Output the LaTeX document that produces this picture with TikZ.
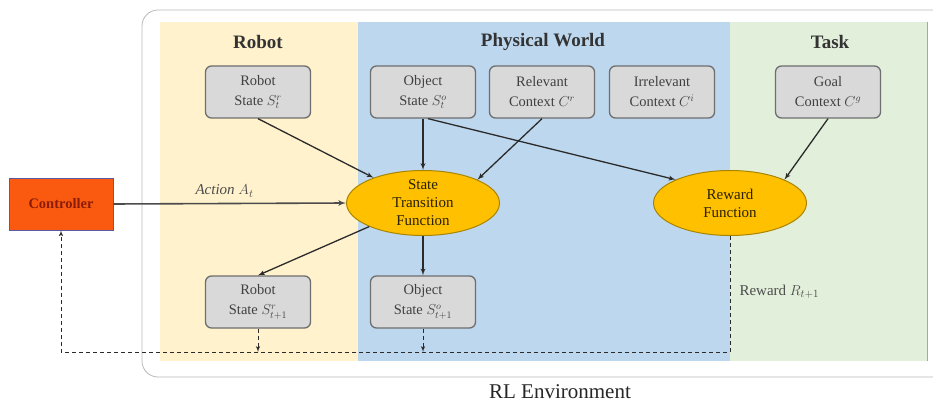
\documentclass[tikz,border=0pt]{standalone}
\usepackage{fontspec}
\setmainfont{Liberation Serif}
\usepackage{amsmath}
\usetikzlibrary{arrows}
\usetikzlibrary{shapes.geometric}
\usetikzlibrary{positioning}
\definecolor{robotbg}{HTML}{FFF2CC}
\definecolor{worldbg}{HTML}{BDD7EE}
\definecolor{taskbg}{HTML}{E2EFDA}
\definecolor{boxfill}{HTML}{D9D9D9}
\definecolor{boxline}{HTML}{6E6E6E}
\definecolor{fnfill}{HTML}{FFC000}
\definecolor{fnline}{HTML}{A88400}
\definecolor{ctrlfill}{HTML}{FA5A10}
\definecolor{ctrltext}{HTML}{8A1C08}
\definecolor{edgec}{HTML}{2B2B2B}
\tikzset{statebox/.style = {draw=boxline, fill=boxfill, line width=1.3pt, rounded corners=6pt,
                            minimum width=105pt, minimum height=52pt, align=center, text=black!75,
                            font=\fontsize{14.5}{20}\selectfont}}
\tikzset{func/.style = {ellipse, draw=fnline, fill=fnfill, line width=1pt, inner sep=-2pt,
                        minimum width=153pt, minimum height=65pt, align=center, text=black!75!fnline,
                        font=\fontsize{15}{18}\selectfont}}
\tikzset{paneltitle/.style = {font=\fontsize{19}{22}\selectfont\bfseries, text=black!80}}
\tikzset{link/.style = {-latex', draw=edgec, line width=1.3pt}}
\tikzset{feedback/.style = {-latex', draw=edgec, line width=1pt, dash pattern=on 4pt off 3pt}}

\begin{document}
\begin{tikzpicture}[x=1pt, y=-1pt]
      \useasboundingbox (0,0) rectangle (933,403);
      \clip (0,0) rectangle (933,403);

      \draw [gray!55, line width=0.8pt, rounded corners=16pt] (142,10) rectangle (960,377);
      \fill [robotbg] (160,22) rectangle (358,361);
      \fill [worldbg] (358,22) rectangle (730,361);
      \fill [taskbg] (730,22) rectangle (927,361);
      \draw [gray!70, line width=1pt] (927,22) -- (927,361);

      \node [paneltitle] (trobot) at (258,42) {Robot};
      \node [paneltitle] (tworld) at (543,42) {Physical World};
      \node [paneltitle] (ttask) at (830,42) {Task};

      \node [statebox] (rs) at (258,92) {Robot\\State $S_t^r$};
      \node [statebox] (os) at (423,92) {Object\\State $S_t^o$};
      \node [statebox] (rc) at (542,92) {Relevant\\Context $C^r$};
      \node [statebox] (ic) at (662,92) {Irrelevant\\Context $C^i$};
      \node [statebox] (gc) at (828,92) {Goal\\Context $C^g$};
      \node [statebox] (rn) at (258,302) {Robot\\State $S_{t+1}^r$};
      \node [statebox] (on) at (423,302) {Object\\State $S_{t+1}^o$};

      \node [func] (stf) at (423,203) {State\\Transition\\Function};
      \node [func] (rf) at (730,203) {Reward\\Function};

      \node [draw=blue!30!gray, fill=ctrlfill, line width=0.6pt, minimum width=104pt, minimum height=52pt,
             text=ctrltext, font=\fontsize{14.5}{17}\selectfont\bfseries] (ctrl) at (61,204) {Controller};

      \draw [link] (rs.south) -- (stf);
      \draw [link] (os.south) -- (stf.north);
      \draw [link] (rc.south) -- (stf.north east);
      \draw [link] ([xshift=5pt]os.south) -- (rf.north west);
      \draw [link] (gc.south) -- (rf.north east);
      \draw [link] (stf) -- (rn.north);
      \draw [link] (stf.south) -- (on.north);
      \draw [link, draw=black!70, line width=1.6pt] (ctrl.east) -- (stf.west);
      \node [anchor=west, text=black!70, font=\fontsize{15}{18}\selectfont] (actlbl) at (192,191) {\textit{Action} $A_t$};

      \coordinate (fbrew) at (730,352);
      \coordinate (fbctrl) at (61,352);
      \coordinate (fbrobot) at (258,352);
      \coordinate (fbobj) at (423,352);
      \draw [feedback] (rf.south) -- (fbrew) -- (fbctrl) -- (ctrl.south);
      \draw [feedback] (rn.south) -- (fbrobot);
      \draw [feedback] (on.south) -- (fbobj);
      \node [anchor=west, text=black!70, font=\fontsize{15}{18}\selectfont] (rewlbl) at (736,292) {Reward $R_{t+1}$};

      \node [font=\fontsize{21}{24}\selectfont, text=black!85] (envlbl) at (560,392) {RL Environment};
\end{tikzpicture}
\end{document}
